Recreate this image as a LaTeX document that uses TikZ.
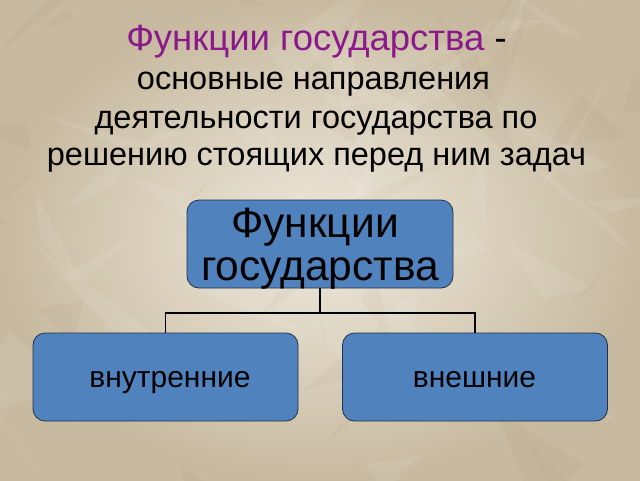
\documentclass[tikz,border=0pt]{standalone}
\usepackage{fontspec}
\setmainfont{Liberation Sans}
\usetikzlibrary{calc}
\definecolor{paperin}{RGB}{238,233,221}
\definecolor{paperout}{RGB}{200,186,160}
\definecolor{boxfill}{RGB}{80,130,190}
\definecolor{boxline}{RGB}{35,50,70}
\definecolor{titlepurple}{RGB}{140,25,140}
\tikzset{
  x=1pt, y=-1pt,
  box/.style={draw=boxline, line width=0.8pt, fill=boxfill, rounded corners=12pt, inner sep=0pt},
  titleline/.style={anchor=base, inner sep=0pt, font=\fontsize{32.5}{38}\selectfont, text=black},
  biglbl/.style={anchor=base, inner sep=0pt, font=\fontsize{42.5}{46}\selectfont, text=black},
  lbl/.style={anchor=base, inner sep=0pt, font=\fontsize{30}{34}\selectfont, text=black},
  conn/.style={draw=black, line width=1.3pt}
}
\begin{document}
\begin{tikzpicture}
\useasboundingbox (0,0) rectangle (640,480);
\shade[inner color=paperin, outer color=paperout] (0,0) rectangle (640,480);
\pgfmathsetseed{11}
\foreach \i in {1,...,45}{
  \pgfmathsetmacro{\ax}{rnd*640}\pgfmathsetmacro{\ay}{rnd*480}
  \pgfmathsetmacro{\bx}{\ax+(rnd-0.5)*260}\pgfmathsetmacro{\by}{\ay+(rnd-0.5)*200}
  \pgfmathsetmacro{\cx}{\ax+(rnd-0.5)*120}\pgfmathsetmacro{\cy}{\ay+(rnd-0.5)*120}
  \fill[white, opacity=0.08] (\ax,\ay) -- (\bx,\by) -- (\cx,\cy) -- cycle;
}
\foreach \i in {1,...,30}{
  \pgfmathsetmacro{\ax}{rnd*640}\pgfmathsetmacro{\ay}{rnd*480}
  \pgfmathsetmacro{\bx}{\ax+(rnd-0.5)*220}\pgfmathsetmacro{\by}{\ay+(rnd-0.5)*180}
  \pgfmathsetmacro{\cx}{\ax+(rnd-0.5)*100}\pgfmathsetmacro{\cy}{\ay+(rnd-0.5)*100}
  \fill[brown!60!black, opacity=0.035] (\ax,\ay) -- (\bx,\by) -- (\cx,\cy) -- cycle;
}

% title
\node[titleline] (t1) at (316.5,50) {\fontsize{36.5}{40}\selectfont\textcolor{titlepurple}{Функции государства} -};
\node[titleline] (t2) at (313.5,89) {основные направления};
\node[titleline] (t3) at (316,128) {деятельности государства по};
\node[titleline] (t4) at (316.5,165) {решению стоящих перед ним задач};

% boxes
\node[box, minimum width=266pt, minimum height=88pt] (top) at (320,244) {};
\node[box, minimum width=265pt, minimum height=88pt] (left) at (165.5,377) {};
\node[box, minimum width=265pt, minimum height=88pt] (right) at (475,377) {};

% connectors
\coordinate (j) at (320,313);
\draw[conn] (top.south) -- (j);
\draw[conn] (left.north) |- (j) -| (right.north);

% labels
\node[biglbl] (topa) at (315,237) {Функции};
\node[biglbl] (topb) at (320,280) {государства};
\node[lbl] (lt) at (170,387) {внутренние};
\node[lbl] (rt) at (474.5,387) {внешние};
\end{tikzpicture}
\end{document}
